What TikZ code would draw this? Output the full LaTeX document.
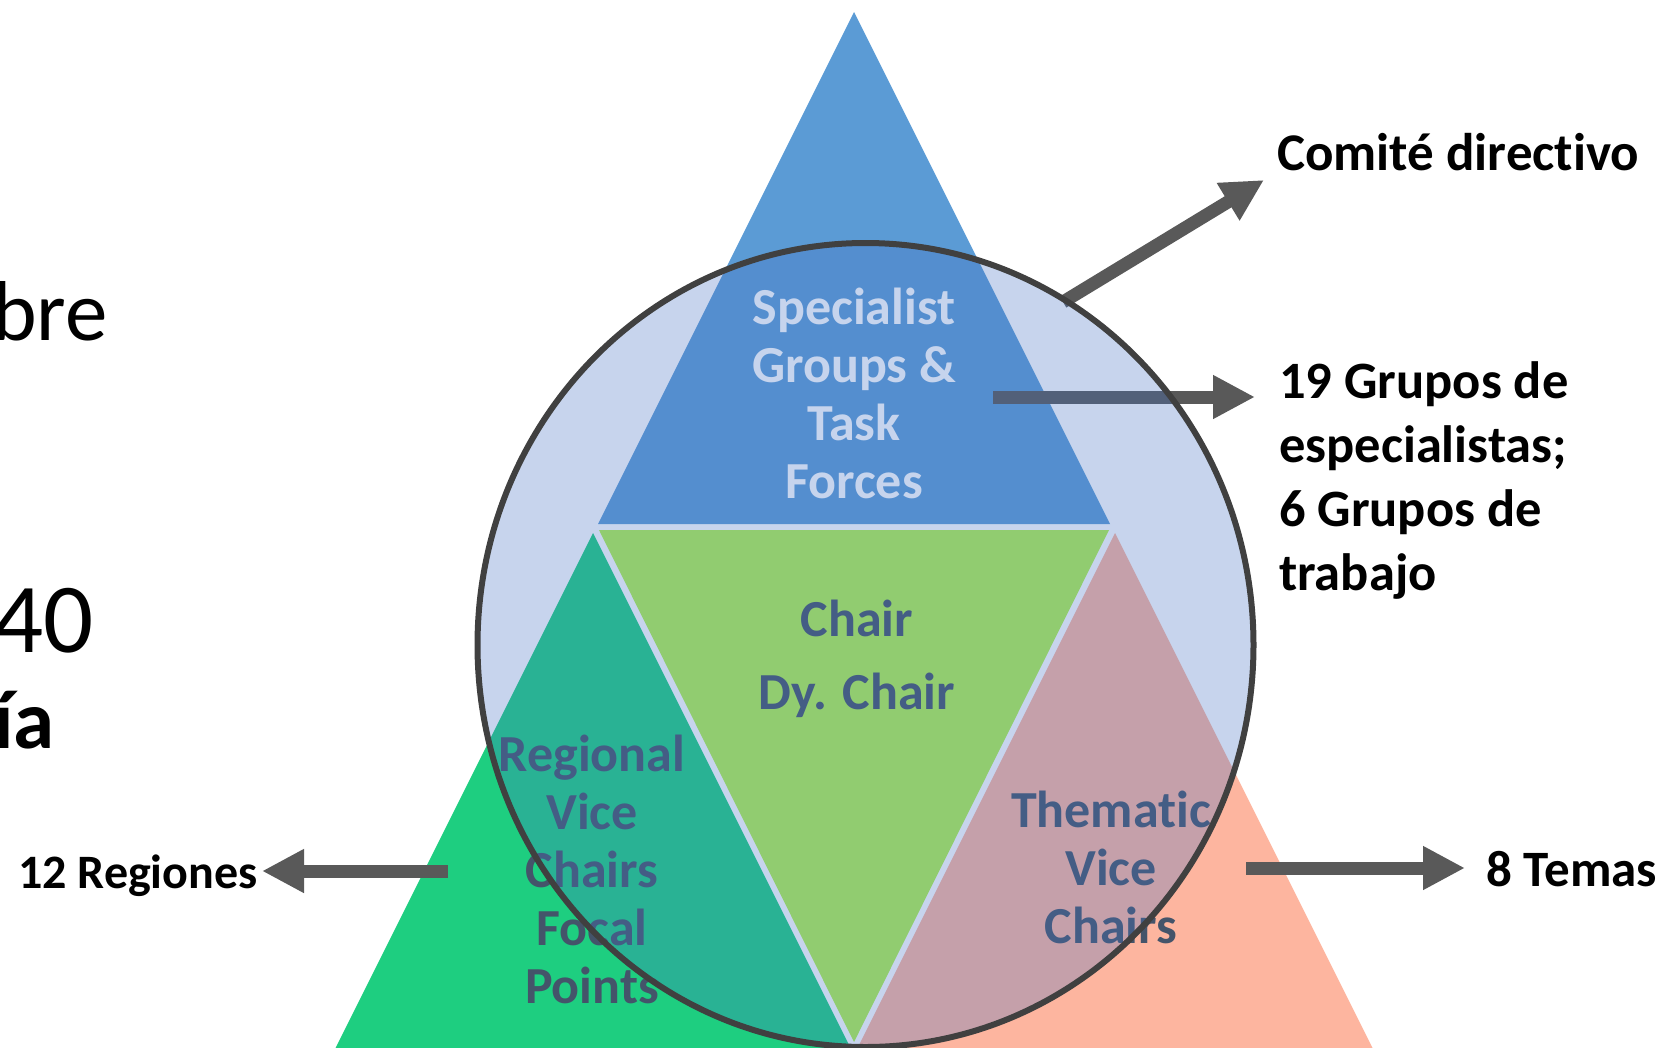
\documentclass[tikz,border=0pt]{standalone}
\usepackage{fontspec}
\setmainfont{Carlito}[Ligatures=NoCommon]
\usetikzlibrary{arrows.meta}
\definecolor{topblue}{HTML}{5B9BD5}
\definecolor{llgreen}{HTML}{1ECE80}
\definecolor{lrsalmon}{HTML}{FDB59F}
\definecolor{midgreen}{HTML}{B3F34C}
\definecolor{overlayblue}{HTML}{4472C4}
\definecolor{ringgray}{HTML}{404040}
\definecolor{arrowgray}{HTML}{595959}
\definecolor{labeltext}{HTML}{44546A}
\begin{document}
\begin{tikzpicture}[x=1pt,y=-1pt,
  bigarrow/.style={draw=arrowgray, line width=13pt, line cap=butt, -{Triangle[length=42pt,width=41pt]}},
  inlabel/.style={font=\bfseries\fontsize{52}{58}\selectfont, align=center, inner sep=0pt, anchor=base, text=labeltext},
  outlabel/.style={font=\bfseries\fontsize{52.5}{64}\selectfont, align=left, inner sep=0pt, anchor=base west, text=black},
  cuttext/.style={inner sep=0pt, anchor=base east, text=black}]
\useasboundingbox (0,0) rectangle (1670,1047);
\clip (0,0) rectangle (1670,1047);
% cut-off text on the left
\node[cuttext, font=\fontsize{85}{100}\selectfont] (bre) at (108,340) {bre};
\node[cuttext, font=\fontsize{99}{118}\selectfont] (num) at (94,652) {140};
\node[cuttext, font=\bfseries\fontsize{83}{100}\selectfont] (ia) at (55,748) {ía};
% triangles
\fill[topblue] (854,12) -- (1110,524) -- (598,524) -- cycle;
\fill[llgreen] (593,533) -- (856.5,1060) -- (329.5,1060) -- cycle;
\fill[lrsalmon] (1115,533) -- (1378.5,1060) -- (851.5,1060) -- cycle;
\fill[midgreen] (599,530) -- (1109,530) -- (854,1042) -- cycle;
% labels inside (base = baseline of the last line)
\node[inlabel, text=white] (spec) at (854,498) {Specialist\\Groups \&\\Task\\Forces};
\node[inlabel, font=\bfseries\fontsize{52}{73}\selectfont] (chair) at (857,709) {Chair\\Dy. Chair};
\node[inlabel] (regional) at (592,1003) {Regional\\Vice\\Chairs\\Focal\\Points};
\node[inlabel] (thematic) at (1111,943) {Thematic\\Vice\\Chairs};
% arrow endpoints
\coordinate (cs) at (1063,302);
\coordinate (ce) at (1264,180);
\coordinate (gs) at (993,397);
\coordinate (ge) at (1255,397);
\coordinate (rs) at (448,871);
\coordinate (re) at (262,871);
\coordinate (ts) at (1246,868);
\coordinate (te) at (1465,868);
\draw[bigarrow] (cs) -- (ce);
\draw[bigarrow] (gs) -- (ge);
\draw[bigarrow] (rs) -- (re);
\draw[bigarrow] (ts) -- (te);
% circle overlay
\fill[overlayblue, fill opacity=0.3] (865.5,645) ellipse [x radius=388, y radius=402];
\draw[ringgray, line width=6pt] (865.5,645) ellipse [x radius=388, y radius=402];
% outside labels
\node[outlabel, font=\bfseries\fontsize{53}{64}\selectfont] (comite) at (1277,170) {Comité directivo};
\node[outlabel] (grupos) at (1279,590) {19 Grupos de\\especialistas;\\6 Grupos de\\trabajo};
\node[outlabel, font=\bfseries\fontsize{48}{58}\selectfont] (regiones) at (18,888) {12 Regiones};
\node[outlabel, font=\bfseries\fontsize{51}{60}\selectfont] (temas) at (1486,886) {8 Temas};
\end{tikzpicture}
\end{document}
